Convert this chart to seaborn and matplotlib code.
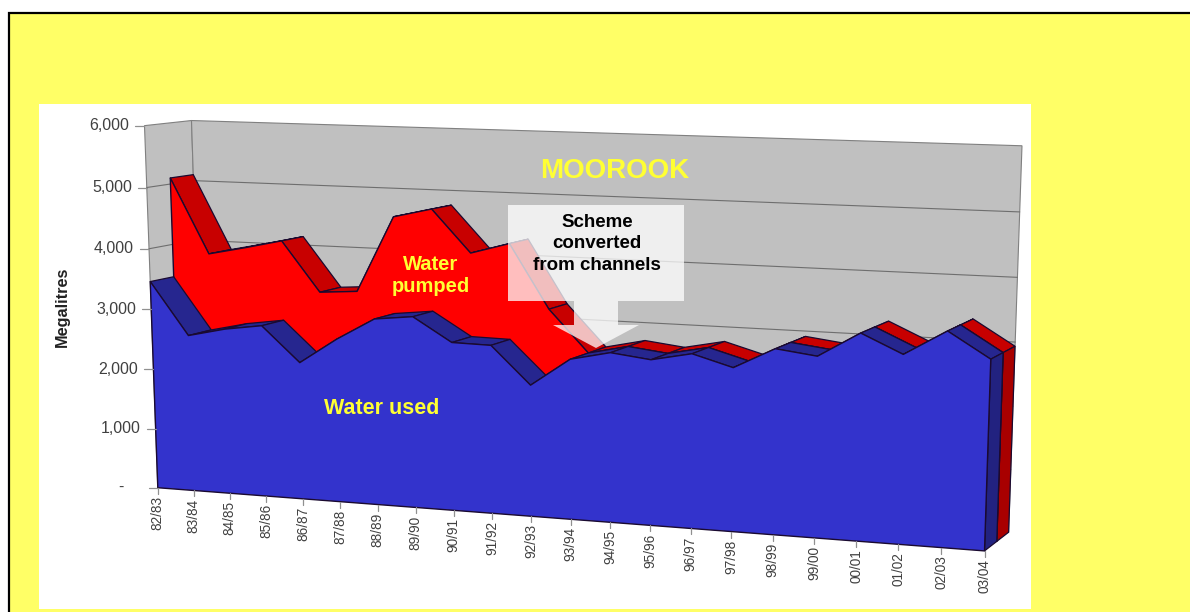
# -*- coding: utf-8 -*-
"""
Moorook scheme: water used and water pumped per season, 3D style area chart.
"""
from itertools import count

import numpy as np
import pandas as pd
import seaborn as sns
import matplotlib.pyplot as plt
from matplotlib.patches import Polygon, Rectangle

seasons = ["82/83", "83/84", "84/85", "85/86", "86/87", "87/88", "88/89", "89/90", "90/91", "91/92", "92/93",
           "93/94", "94/95", "95/96", "96/97", "97/98", "98/99", "99/00", "00/01", "01/02", "02/03", "03/04"]
water_used = [3460, 2600, 2740, 2830, 2260, 2680, 3040, 3110, 2730, 2720, 2120,
              2570, 2710, 2635, 2765, 2585, 2915, 2835, 3225, 2935, 3325, 2935]
water_pumped = [5100, 3870, 4000, 4140, 3325, 3370, 4610, 4760, 4080, 4260, 3240,
                2570, 2710, 2635, 2765, 2585, 2915, 2835, 3225, 2935, 3325, 2935]
y_ticks = [0, 1000, 2000, 3000, 4000, 5000, 6000]
y_tick_labels = ["-", "1,000", "2,000", "3,000", "4,000", "5,000", "6,000"]

# picture calibration for the fake 3D box: (season index, value / 1000, depth) -> pixel
calib_box = [(0, 0, 0), (10, 0, 0), (21, 0, 0), (0, 6, 0), (0, 6, 2), (21, 6, 2), (21, 0, 2), (0, 0, 2), (21, 0, 1)]
calib_px = [(157, 484), (531, 517), (985, 553), (145, 127), (191, 119), (1022, 146), (1008, 530), (204, 476), (997, 541)]

YELLOW = "#ffff66"
BLUE, BLUE_TOP, BLUE_END = "#3333cc", "#26268f", "#222280"
RED, RED_TOP, RED_END = "#ff0000", "#c80000", "#a80000"
EDGE = "#1a0a30"
ORDER = count(100)


def z():
    # painter's order, the later the higher
    return next(ORDER) * 0.01


def fit_camera(box, px):
    rows, rhs = [], []
    for (X, Y, Z), (u, v) in zip(box, px):
        rows.append([X, Y, Z, 1, 0, 0, 0, 0, -u * X, -u * Y, -u * Z])
        rhs.append(u)
        rows.append([0, 0, 0, 0, X, Y, Z, 1, -v * X, -v * Y, -v * Z])
        rhs.append(v)
    p = np.linalg.lstsq(np.array(rows, float), np.array(rhs, float), rcond=None)[0]
    return np.append(p, 1).reshape(3, 4)


CAM = fit_camera(calib_box, calib_px)


def project(i, val, depth):
    # val in the chart's units (megalitres)
    i, val, depth = np.broadcast_arrays(np.asarray(i, float), np.asarray(val, float) / 1000, np.asarray(depth, float))
    pts = np.stack([i, val, depth, np.ones_like(i)])
    uvw = CAM @ pts
    return uvw[0] / uvw[2], uvw[1] / uvw[2]


def face(ax, i, val, depth, color, edge=EDGE, lw=0.9, alpha=1.0):
    xs, ys = project(i, val, depth)
    ax.add_patch(Polygon(np.column_stack([xs, ys]), closed=True, facecolor=color, edgecolor=edge, linewidth=lw,
                         alpha=alpha, zorder=z()))


def area_3d(ax, values, front, color, top_color, end_color):
    values = np.asarray(values, float)
    n = len(values)
    idx = np.arange(n)
    # top strips first, the front face then hides what should not show
    for k in range(n - 1):
        face(ax, [k, k + 1, k + 1, k], [values[k], values[k + 1], values[k + 1], values[k]],
             [front, front, front + 1, front + 1], top_color)
    face(ax, [n - 1] * 4, [0, values[-1], values[-1], 0], [front, front, front + 1, front + 1], end_color)
    face(ax, np.r_[idx, n - 1, 0], np.r_[values, 0, 0], np.r_[np.full(n + 2, front)], color, edge="none", lw=0)
    xs, ys = project(np.r_[0, idx, n - 1, 0], np.r_[0, values, 0, 0], front)
    outline = pd.DataFrame({"x": xs, "y": ys})
    sns.lineplot(data=outline, x="x", y="y", sort=False, estimator=None, color=EDGE, linewidth=1.0, ax=ax, zorder=z())


if __name__ == '__main__':
    sns.set_style("white")
    plt.rcParams['font.family'] = ['Liberation Sans', 'DejaVu Sans']

    fig = plt.figure(figsize=(11.9, 6.12), dpi=100, facecolor="white")
    ax = fig.add_axes([0, 0, 1, 1])
    ax.set_xlim(0, 1190)
    ax.set_ylim(612, 0)
    ax.axis("off")

    # page frame (runs off the right and bottom) and white panel
    ax.add_patch(Rectangle((9, 13), 1300, 700, facecolor=YELLOW, edgecolor="black", linewidth=1.6, zorder=z()))
    ax.add_patch(Rectangle((39, 104), 992, 505, facecolor="white", edgecolor="none", zorder=z()))

    last = len(seasons) - 1
    # walls
    face(ax, [0, 0, 0, 0], [0, 6000, 6000, 0], [0, 0, 2, 2], "#c0c0c0", edge="#808080", lw=0.8)
    face(ax, [0, last, last, 0], [0, 0, 6000, 6000], [2, 2, 2, 2], "#c0c0c0", edge="#808080", lw=0.8)
    for tick in y_ticks[1:-1]:
        xs, ys = project([0, 0, last], [tick] * 3, [0, 2, 2])
        ax.plot(xs, ys, color="#6e6e6e", linewidth=0.8, zorder=z())

    area_3d(ax, water_pumped, 1, RED, RED_TOP, RED_END)
    area_3d(ax, water_used, 0, BLUE, BLUE_TOP, BLUE_END)

    # y axis ticks and labels
    for tick, lab in zip(y_ticks, y_tick_labels):
        x0, y0 = project(0, tick, 0)
        ax.plot([x0 - 9, x0], [y0, y0], color="#909090", linewidth=0.9, zorder=z())
        pad = 34 if lab == "-" else 15
        ax.text(x0 - pad, y0, lab, ha="right", va="center", fontsize=11.5, color="#404040", zorder=z())
    # x axis ticks and labels
    for i, lab in enumerate(seasons):
        x0, y0 = project(i, 0, 0)
        ax.plot([x0, x0], [y0, y0 + 6], color="#909090", linewidth=0.9, zorder=z())
        ax.text(x0, y0 + 8, lab, rotation=90, ha="center", va="top", fontsize=9.8, color="#404040", zorder=z())

    ax.text(62, 307, "Megalitres", rotation=90, ha="center", va="center", fontsize=11.7, fontweight="bold",
            color="#222222", zorder=z())
    ax.text(615, 171, "MOOROOK", ha="center", va="center", fontsize=20, fontweight="bold", color="#ffff33", zorder=z())
    ax.text(431, 276, "Water\npumped", ha="center", va="center", fontsize=14.5, fontweight="bold", color="#ffff33",
            linespacing=1.2, zorder=z())
    ax.text(382, 408, "Water used", ha="center", va="center", fontsize=15.5, fontweight="bold", color="#ffff33", zorder=z())

    # callout over the chart
    callout = [(508, 205), (684, 205), (684, 301), (618, 301), (618, 325), (639, 325), (596, 348),
               (553, 325), (574, 325), (574, 301), (508, 301)]
    ax.add_patch(Polygon(callout, closed=True, facecolor="white", edgecolor="none", alpha=0.75, zorder=z()))
    ax.text(597, 244, "Scheme\nconverted\nfrom channels", ha="center", va="center", fontsize=13.5, fontweight="bold",
            color="black", linespacing=1.37, zorder=z())

    fig.savefig("out.png", dpi=100, facecolor="white")
